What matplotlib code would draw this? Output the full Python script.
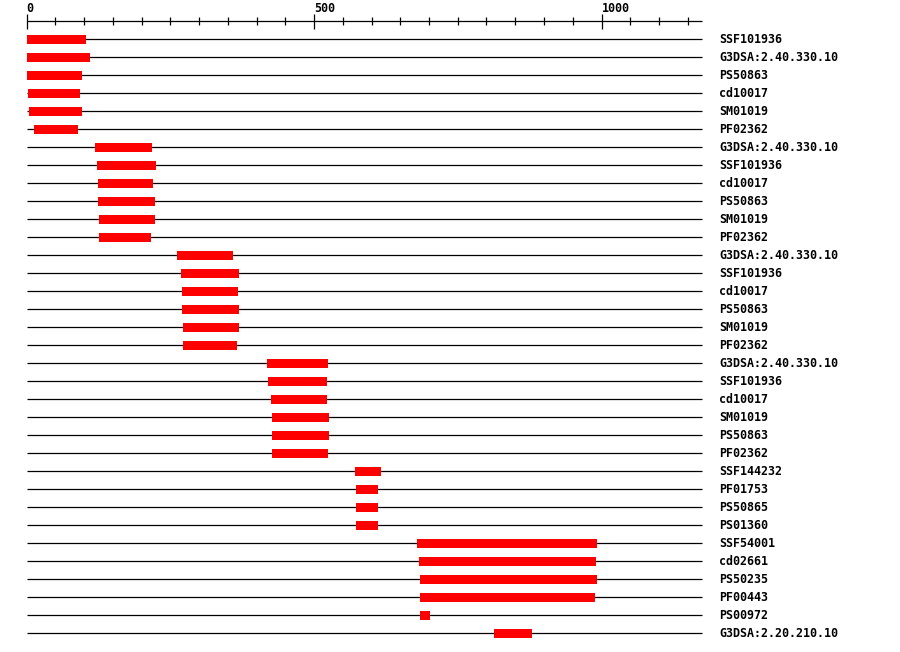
import matplotlib
matplotlib.use('Agg')
import matplotlib.pyplot as plt

# domain hits, one row each (top to bottom)
labels = ['SSF101936', 'G3DSA:2.40.330.10', 'PS50863', 'cd10017', 'SM01019', 'PF02362',
          'G3DSA:2.40.330.10', 'SSF101936', 'cd10017', 'PS50863', 'SM01019', 'PF02362',
          'G3DSA:2.40.330.10', 'SSF101936', 'cd10017', 'PS50863', 'SM01019', 'PF02362',
          'G3DSA:2.40.330.10', 'SSF101936', 'cd10017', 'SM01019', 'PS50863', 'PF02362',
          'SSF144232', 'PF01753', 'PS50865', 'PS01360',
          'SSF54001', 'cd02661', 'PS50235', 'PF00443', 'PS00972', 'G3DSA:2.20.210.10']
starts = [1, 1, 1, 3, 4, 13,
          119, 123, 124, 124, 126, 126,
          262, 269, 270, 270, 272, 272,
          418, 420, 425, 427, 427, 427,
          571, 573, 573, 573,
          679, 683, 684, 684, 684, 813]
ends = [104, 110, 96, 93, 96, 90,
        218, 225, 220, 223, 223, 216,
        359, 370, 368, 370, 370, 366,
        524, 523, 523, 526, 526, 524,
        617, 611, 611, 611,
        992, 990, 992, 989, 702, 879]
seq_len = 1175
major_ticks = [0, 500, 1000]
minor_ticks = [x for x in range(0, 1151, 50)]

fig = plt.figure(figsize=(9, 6.52), dpi=100)
ax = fig.add_axes([0, 0, 1, 1])
ax.set_xlim(-26.5 / 0.575, (900 - 26.5) / 0.575)
ax.set_ylim((652 - 39.3) / 18, -39.3 / 18)
ax.axis('off')

font = dict(family='DejaVu Sans Mono', weight='bold', size=8.4)

# ruler
ax.hlines(-1, 0, seq_len, color='black', lw=0.9)
for t in minor_ticks:
    if t in major_ticks:
        ax.vlines(t, -1.42, -0.58, color='black', lw=0.9)
        ax.text(t, -1.5, str(t), ha='left', va='baseline', **font)
    else:
        ax.vlines(t, -1.22, -0.78, color='black', lw=0.9)

rows = list(range(len(labels)))
ax.hlines(rows, 0, seq_len, color='black', lw=0.9, zorder=1)
ax.barh(rows, [e - s for s, e in zip(starts, ends)], left=starts, height=0.5,
        color='#ff0000', linewidth=0, zorder=2)
for r, lab in zip(rows, labels):
    ax.text(1205, r, lab, ha='left', va='center', **font)

fig.savefig('out.png', dpi=100)
